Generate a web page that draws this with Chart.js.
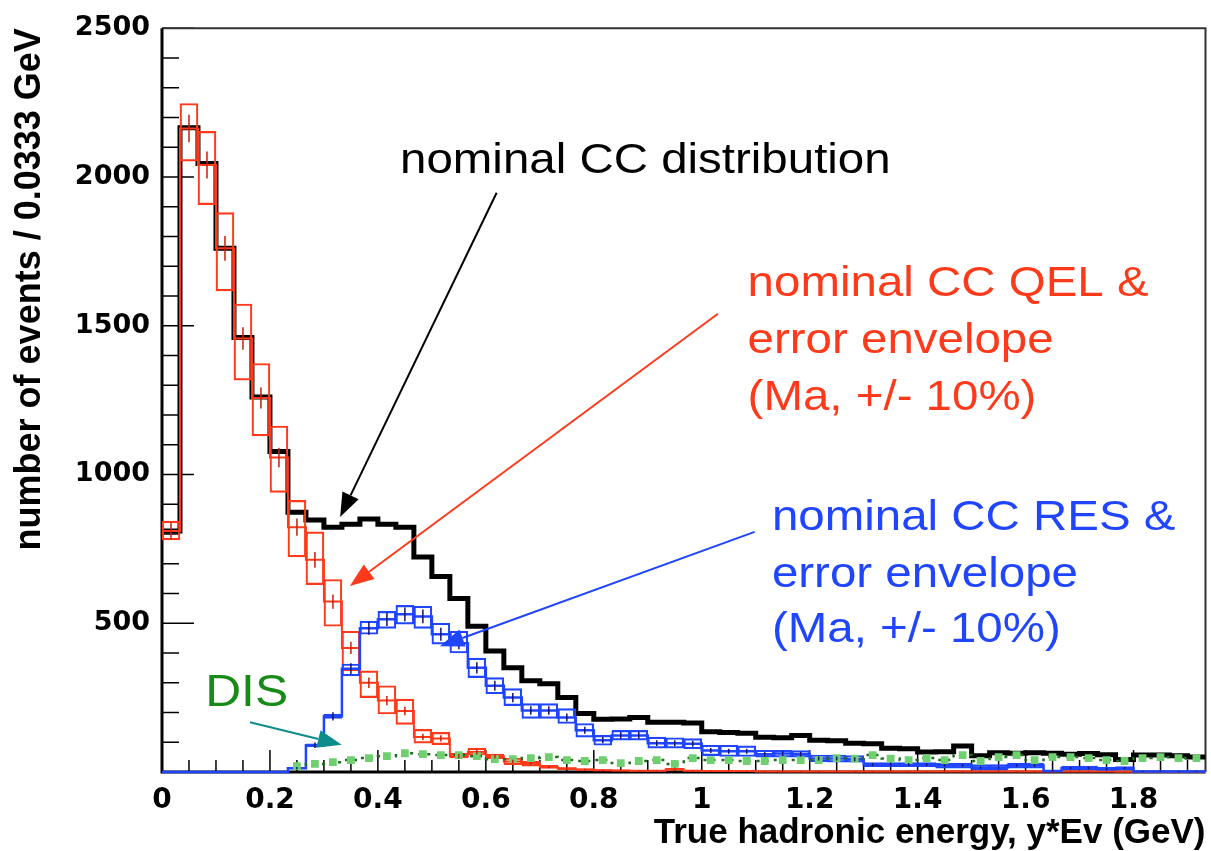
<!DOCTYPE html>
<html lang="en">
<head>
  <meta charset="UTF-8" />
  <title>True hadronic energy</title>
  <script src="https://cdn.jsdelivr.net/npm/chart.js"></script>
  <style>
    body { margin: 0; background: #fff; }
    #wrap { width: 1211px; height: 851px; }
  </style>
</head>
<body>
  <div id="wrap"><canvas id="plot" width="1211" height="851"></canvas></div>

  <script>
    // 58 bins of 0.0333 GeV starting at 0
    const binWidth = 1 / 30;
    const nBins = 58;

    // nominal CC total (black)
    const ccTotal = [810, 2165, 2045, 1760, 1460, 1260, 1077, 873, 847, 823,
      833, 850, 833, 823, 723, 657, 583, 490, 407, 350,
      307, 297, 250, 197, 177, 178, 183, 167, 167, 165,
      135, 133, 130, 117, 115, 123, 107, 105, 97, 95,
      80, 78, 67, 68, 87, 55, 65, 63, 65, 63,
      60, 62, 58, 42, 57, 57, 55, 50];

    // CC QEL nominal and Ma +/-10% envelope (red)
    const qelNominal = [810, 2163, 2040, 1760, 1457, 1257, 1057, 823, 713, 573,
      417, 300, 240, 205, 118, 113, 53, 67, 53, 35,
      28, 17, 12, 8, 6, 5, 4, 4, 9, 4,
      3, 3, 3, 2, 2, 2, 2, 2, 2, 2,
      2, 2, 2, 2, 2, 2, 2, 2, 2, 2,
      2, 2, 2, 1, 1, 1, 1, 1];
    const qelLow = [780, 2053, 1907, 1617, 1317, 1130, 940, 723, 630, 490,
      340, 250, 195, 160, 97, 92, 47, 57, 45, 25,
      20, 12, 8, 5, 4, 3, 2, 2, 5, 2,
      1, 1, 1, 1, 1, 1, 1, 1, 1, 1,
      1, 1, 1, 1, 1, 1, 1, 1, 1, 1,
      1, 1, 1, 0, 0, 0, 0, 0];
    const qelHigh = [843, 2247, 2153, 1880, 1573, 1373, 1163, 913, 807, 647,
      473, 340, 290, 245, 143, 133, 63, 80, 60, 47,
      36, 22, 15, 11, 8, 7, 6, 6, 12, 6,
      5, 5, 5, 4, 4, 4, 4, 4, 4, 4,
      4, 4, 4, 4, 4, 4, 4, 4, 4, 4,
      4, 4, 4, 3, 3, 3, 3, 3];

    // CC RES nominal and Ma +/-10% envelope (blue)
    const resNominal = [0, 0, 0, 0, 0, 0, 0, 13, 90, 187,
      347, 483, 513, 530, 523, 463, 433, 350, 290, 250,
      207, 207, 183, 140, 107, 123, 123, 97, 97, 95,
      72, 70, 70, 60, 62, 60, 45, 45, 43, 25,
      25, 25, 25, 22, 22, 15, 15, 22, 22, 3,
      13, 13, 10, 13, 2, 2, 2, 2];
    const resLow = [0, 0, 0, 0, 0, 0, 0, 10, 85, 180,
      323, 463, 483, 497, 483, 430, 400, 317, 263, 223,
      180, 180, 163, 117, 90, 107, 107, 80, 80, 78,
      55, 52, 52, 50, 50, 50, 35, 33, 33, 18,
      18, 18, 18, 13, 13, 7, 7, 13, 13, 1,
      7, 7, 5, 7, 0, 0, 0, 0];
    const resHigh = [0, 0, 0, 0, 0, 0, 0, 16, 95, 195,
      363, 507, 540, 560, 557, 500, 473, 383, 317, 280,
      230, 230, 213, 163, 123, 140, 140, 117, 115, 112,
      90, 90, 88, 73, 73, 72, 57, 57, 55, 32,
      32, 32, 32, 30, 30, 25, 25, 30, 30, 5,
      20, 20, 16, 18, 4, 4, 4, 4];

    // DIS (green), starts at bin 7
    const disFirstBin = 7;
    const disValues = [20, 27, 33, 40, 47, 53, 63, 60, 57, 57,
      53, 43, 43, 47, 50, 40, 37, 40, 30, 37,
      40, 27, 47, 40, 40, 37, 37, 40, 40, 40,
      47, 45, 57, 45, 40, 47, 40, 57, 37, 50,
      57, 40, 50, 50, 47, 40, 37, 47, 50, 47, 47];

    const xTickLabels = ['0', '0.2', '0.4', '0.6', '0.8', '1', '1.2', '1.4', '1.6', '1.8'];
    const yTickLabels = ['', '500', '1000', '1500', '2000', '2500'];

    const RED = '#ff3a1a';
    const BLUE = '#1f45ff';
    const xMax = nBins * binWidth;

    function stepPoints(vals, first) {
      const start = first || 0;
      const pts = vals.map((v, i) => ({ x: (start + i) * binWidth, y: v }));
      pts.push({ x: (start + vals.length) * binWidth, y: vals[vals.length - 1] });
      return pts;
    }
    function boxPoints(lo, hi) {
      return lo.map((v, i) => ({ x: (i + 0.5) * binWidth, y: [v, hi[i]] }));
    }

    const histDecor = {
      id: 'histDecor',
      beforeDatasetsDraw(chart) {
        const { ctx, chartArea: a, scales: { x, y } } = chart;
        ctx.save();
        // tick marks inside the frame
        ctx.strokeStyle = '#000';
        ctx.lineWidth = 1.5;
        ctx.beginPath();
        for (let i = 0; i * 0.05 <= xMax + 1e-9; i++) {
          const px = x.getPixelForValue(i * 0.05);
          const len = i % 4 === 0 ? 22 : 12;
          ctx.moveTo(px, a.bottom);
          ctx.lineTo(px, a.bottom - len);
        }
        for (let v = 100; v <= 2500; v += 100) {
          const py = y.getPixelForValue(v);
          const len = v % 500 === 0 ? 32 : 17;
          ctx.moveTo(a.left, py);
          ctx.lineTo(a.left + len, py);
        }
        ctx.stroke();

        // frame
        ctx.strokeStyle = '#333';
        ctx.lineWidth = 2;
        ctx.beginPath();
        ctx.moveTo(a.left, a.top);
        ctx.lineTo(a.right, a.top);
        ctx.lineTo(a.right, a.bottom);
        ctx.stroke();
        ctx.strokeStyle = '#000';
        ctx.lineWidth = 3;
        ctx.beginPath();
        ctx.moveTo(a.left, a.top);
        ctx.lineTo(a.left, a.bottom);
        ctx.lineTo(a.right, a.bottom);
        ctx.stroke();
        ctx.restore();
      },
      afterDatasetsDraw(chart) {
        const { ctx, scales: { x, y } } = chart;
        ctx.save();

        // statistical error bars on the nominal QEL and RES histograms
        function errBars(vals, color) {
          ctx.strokeStyle = color;
          ctx.lineWidth = 1.5;
          ctx.beginPath();
          vals.forEach((v, i) => {
            if (v < 1) return;
            const e = Math.sqrt(v);
            const px = x.getPixelForValue((i + 0.5) * binWidth);
            ctx.moveTo(px, y.getPixelForValue(v - e));
            ctx.lineTo(px, y.getPixelForValue(v + e));
          });
          ctx.stroke();
        }
        errBars(qelNominal, '#c81e0a');
        errBars(resNominal, '#14146e');

        // annotations (positions in data units)
        function label(str, xv, yv, color, size) {
          ctx.save();
          ctx.translate(x.getPixelForValue(xv), y.getPixelForValue(yv));
          ctx.scale(1.13, 1);
          ctx.fillStyle = color;
          ctx.font = size + 'px "Liberation Sans", Arial, sans-serif';
          ctx.textBaseline = 'alphabetic';
          ctx.fillText(str, 0, 0);
          ctx.restore();
        }
        function arrow(x0, y0, x1, y1, color) {
          const ax = x.getPixelForValue(x0), ay = y.getPixelForValue(y0);
          const bx = x.getPixelForValue(x1), by = y.getPixelForValue(y1);
          const ang = Math.atan2(by - ay, bx - ax);
          const L = 24, W = 9;
          const cx = bx - L * Math.cos(ang), cy = by - L * Math.sin(ang);
          ctx.strokeStyle = color;
          ctx.fillStyle = color;
          ctx.lineWidth = 2;
          ctx.beginPath();
          ctx.moveTo(ax, ay);
          ctx.lineTo(cx, cy);
          ctx.stroke();
          ctx.beginPath();
          ctx.moveTo(bx, by);
          ctx.lineTo(cx + W * Math.sin(ang), cy - W * Math.cos(ang));
          ctx.lineTo(cx - W * Math.sin(ang), cy + W * Math.cos(ang));
          ctx.closePath();
          ctx.fill();
        }

        label('nominal CC distribution', 0.441, 2013, '#000', 42);
        label('nominal CC QEL &', 1.085, 1600, RED, 42);
        label('error envelope', 1.085, 1407, RED, 42);
        label('(Ma, +/- 10%)', 1.085, 1217, RED, 42);
        label('nominal CC RES &', 1.13, 813, BLUE, 42);
        label('error envelope', 1.13, 623, BLUE, 42);
        label('(Ma, +/- 10%)', 1.13, 437, BLUE, 42);
        label('DIS', 0.08, 223, '#178a17', 44);

        arrow(0.620, 1947, 0.330, 857, '#000');
        arrow(1.030, 1540, 0.348, 625, RED);
        arrow(1.098, 807, 0.515, 423, BLUE);
        arrow(0.163, 167, 0.333, 92, '#0e8c8c');

        ctx.restore();
      }
    };

    const boxStyle = {
      type: 'bar',
      backgroundColor: 'rgba(0,0,0,0)',
      borderWidth: 1.5,
      borderSkipped: false,
      barPercentage: 1,
      categoryPercentage: 1,
      grouped: false,
      clip: 4
    };

    new Chart(document.getElementById('plot'), {
      type: 'line',
      data: {
        datasets: [
          {
            type: 'line', label: 'nominal CC', data: stepPoints(ccTotal),
            stepped: 'before', borderColor: '#000', borderWidth: 5,
            pointRadius: 0, order: 6
          },
          Object.assign({ label: 'QEL envelope', data: boxPoints(qelLow, qelHigh),
            borderColor: RED, order: 5 }, boxStyle),
          {
            type: 'line', label: 'QEL nominal', data: stepPoints(qelNominal),
            stepped: 'before', borderColor: RED, borderWidth: 2,
            pointRadius: 0, order: 4, clip: 4
          },
          Object.assign({ label: 'RES envelope', data: boxPoints(resLow, resHigh),
            borderColor: BLUE, order: 3 }, boxStyle),
          {
            type: 'line', label: 'RES nominal', data: stepPoints(resNominal),
            stepped: 'before', borderColor: BLUE, borderWidth: 2.5,
            pointRadius: 0, order: 2, clip: 4
          },
          {
            type: 'line', label: 'DIS',
            data: disValues.map((v, i) => ({ x: (disFirstBin + i + 0.5) * binWidth, y: v })),
            stepped: 'middle', borderColor: '#1f6e1f', borderWidth: 2.5, borderDash: [3, 6],
            pointStyle: 'rect', pointRadius: 5.5, pointBackgroundColor: '#6fd06f',
            pointBorderWidth: 0, order: 1
          }
        ]
      },
      options: {
        responsive: false,
        animation: false,
        devicePixelRatio: 1,
        layout: { padding: { top: 21, right: 3, left: 0, bottom: 0 } },
        plugins: { legend: { display: false }, tooltip: { enabled: false } },
        scales: {
          x: {
            type: 'linear', min: 0, max: xMax, offset: false,
            grid: { display: false, drawTicks: false },
            border: { display: false },
            ticks: {
              stepSize: 0.2, includeBounds: false, padding: 12, color: '#000',
              maxRotation: 0, autoSkip: false,
              font: { family: 'DejaVu Sans', weight: 'bold', size: 28 },
              callback: v => xTickLabels[Math.round(v / 0.2)] ?? ''
            },
            title: {
              display: true, text: 'True hadronic energy, y*Ev (GeV)', align: 'end',
              color: '#000', padding: 0,
              font: { family: 'Liberation Sans', weight: 'bold', size: 35, lineHeight: 1 }
            },
            afterFit: s => { s.height = 79; }
          },
          y: {
            type: 'linear', min: 0, max: 2500,
            grid: { display: false, drawTicks: false },
            border: { display: false },
            ticks: {
              stepSize: 500, padding: 12, color: '#000',
              font: { family: 'DejaVu Sans', weight: 'bold', size: 27 },
              callback: v => yTickLabels[Math.round(v / 500)] ?? ''
            },
            title: {
              display: true, text: 'number of events / 0.0333 GeV', align: 'end',
              color: '#000', padding: { top: 12, bottom: 0 },
              font: { family: 'Liberation Sans', weight: 'bold', size: 36, lineHeight: 1 }
            },
            afterFit: s => { s.width = 162; }
          }
        }
      },
      plugins: [histDecor]
    });
  </script>
</body>
</html>
